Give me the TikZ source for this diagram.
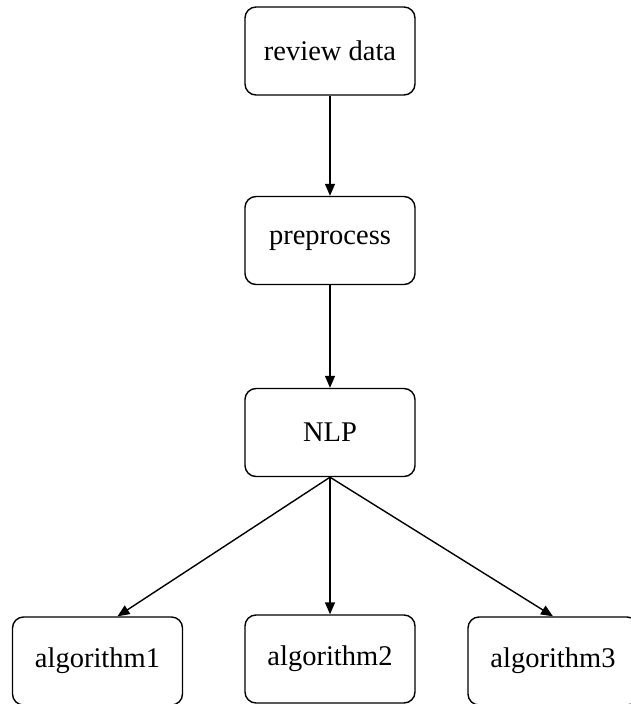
\documentclass[tikz,border=0pt]{standalone}
\usepackage{fontspec}
\setmainfont{Liberation Serif}
\usetikzlibrary{arrows.meta,calc}
\begin{document}
\begin{tikzpicture}[x=1pt,y=-1pt,
  box/.style={draw, line width=1.4pt, rounded corners=11pt, minimum width=170pt, minimum height=88pt, inner sep=0pt, font=\fontsize{28.5}{33}\selectfont},
  arr/.style={line width=1.4pt, -{Triangle[length=12pt,width=10pt]}}]
\useasboundingbox (0,0) rectangle (631,704);
\node[box] (rd) at (330,51) {review data};
\node[box] (pp) at (330,240.5) {preprocess};
\node[box] (nlp) at (330,432.5) {NLP};
\node[box] (a1) at (97.5,661) {algorithm1};
\node[box] (a2) at (330,659) {algorithm2};
\node[box] (a3) at (553,661) {algorithm3};
\draw[arr] (rd.south) -- (pp.north);
\draw[arr] (pp.south) -- (nlp.north);
\draw[arr] (nlp.south) -- ($(a1.north)+(20,0)$);
\draw[arr] (nlp.south) -- (a2.north);
\draw[arr] (nlp.south) -- (a3.north);
\end{tikzpicture}
\end{document}
